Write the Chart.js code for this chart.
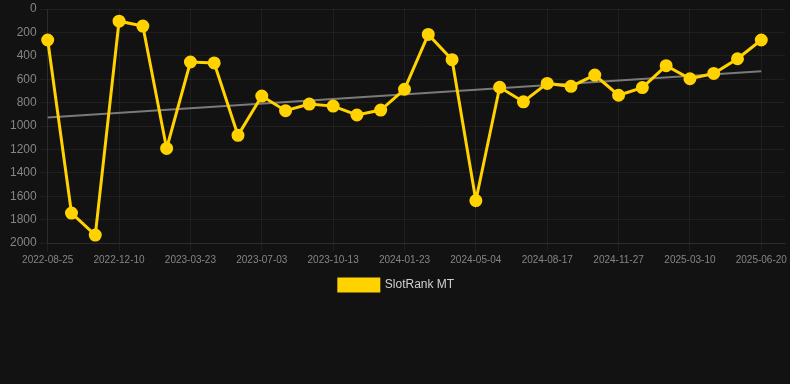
<!DOCTYPE html>
<html>
<head>
<meta charset="utf-8">
<script src="https://cdn.jsdelivr.net/npm/chart.js@4/dist/chart.umd.min.js"></script>
<style>
  html, body { margin: 0; padding: 0; background: #121212; }
  #wrap { position: relative; width: 790px; height: 301px; }
</style>
</head>
<body>
<div id="wrap"><canvas id="rankChart"></canvas></div>
<script>
  // dates (last slot is empty so the grid runs on past the final point)
  var dates = ['2022-08-25', '2022-09-30', '2022-11-04', '2022-12-10', '2023-01-14', '2023-02-17',
    '2023-03-23', '2023-04-26', '2023-05-30', '2023-07-03', '2023-08-06', '2023-09-09',
    '2023-10-13', '2023-11-16', '2023-12-20', '2024-01-23', '2024-02-26', '2024-03-31',
    '2024-05-04', '2024-06-08', '2024-07-13', '2024-08-17', '2024-09-20', '2024-10-24',
    '2024-11-27', '2024-12-31', '2025-02-03', '2025-03-10', '2025-04-13', '2025-05-17',
    '2025-06-20', ''];

  var rankMT = [265, 1744, 1932, 104, 146, 1192, 453, 461, 1080, 744, 869, 813,
    830, 906, 864, 686, 217, 433, 1637, 669, 793, 636, 661, 565,
    737, 672, 484, 596, 551, 425, 265];

  // trend line: first and last value only
  var trendStart = 928;
  var trendEnd = 532;

  var trend = rankMT.map(function(v, i) {
    if (i === 0) return trendStart;
    if (i === rankMT.length - 1) return trendEnd;
    return null;
  });

  var gridColor = 'rgba(255,255,255,0.06)';
  var tickColor = '#858585';

  var ctx = document.getElementById('rankChart');
  var myChart = new Chart(ctx, {
    type: 'line',
    data: {
      labels: dates,
      datasets: [{
        label: 'SlotRank MT',
        data: rankMT,
        borderColor: '#ffd200',
        backgroundColor: '#ffd200',
        borderWidth: 3,
        pointRadius: 5,
        pointHoverRadius: 6,
        pointBackgroundColor: '#ffd200',
        pointBorderColor: '#ffd200',
        tension: 0,
        clip: false,
        order: 1
      }, {
        label: 'trend',
        data: trend,
        borderColor: '#7a7a7a',
        borderWidth: 2,
        pointRadius: 0,
        spanGaps: true,
        order: 2
      }]
    },
    options: {
      responsive: true,
      maintainAspectRatio: false,
      animation: false,
      layout: {
        autoPadding: false,
        padding: { left: 7, right: 4 }
      },
      plugins: {
        legend: {
          position: 'bottom',
          labels: {
            color: '#d0d0d0',
            boxWidth: 40,
            boxHeight: 12,
            font: { size: 12 },
            filter: function(item) { return item.text !== 'trend'; }
          }
        },
        tooltip: { enabled: false }
      },
      scales: {
        x: {
          grid: { color: gridColor },
          border: { color: gridColor },
          ticks: {
            color: tickColor,
            font: { size: 10 },
            maxRotation: 0
          }
        },
        y: {
          reverse: true,
          min: 0,
          max: 2000,
          grid: { color: gridColor },
          border: { color: gridColor },
          ticks: {
            color: tickColor,
            font: { size: 12, lineHeight: 1 },
            stepSize: 200,
            callback: function(v) { return String(v); }
          }
        }
      }
    }
  });
</script>
</body>
</html>
